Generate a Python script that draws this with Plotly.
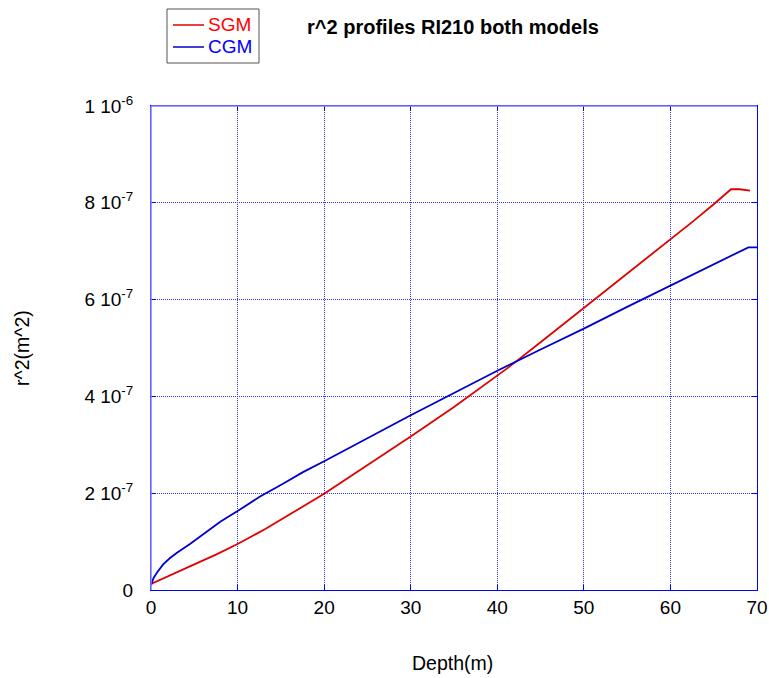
import plotly.graph_objects as go

# Depth (m) and r^2 (m^2) values
sgm_depth = [0, 2.5, 5, 7.5, 10, 13.2, 15, 17.5, 20, 23, 25, 30, 35, 40,
             41.3, 45, 50, 55, 60, 62.5, 65, 67, 68, 69.2]
sgm_r2 = [0.125e-7, 0.32e-7, 0.53e-7, 0.73e-7, 0.95e-7, 1.26e-7, 1.46e-7, 1.72e-7, 1.99e-7,
          2.34e-7, 2.57e-7, 3.17e-7, 3.78e-7, 4.42e-7,
          4.6e-7, 5.12e-7, 5.83e-7, 6.53e-7, 7.24e-7, 7.6e-7, 7.97e-7, 8.28e-7, 8.28e-7, 8.25e-7]

cgm_depth = [0, 0.1, 0.3, 0.7, 1.4, 2.2, 3.0, 4.5, 6.4, 8.0, 10, 12.5, 15.3, 17.5, 20, 23,
             26.5, 30, 35, 40, 45, 50, 55, 60, 65, 69.0, 70]
cgm_r2 = [0.1e-7, 0.17e-7, 0.25e-7, 0.36e-7, 0.53e-7, 0.66e-7, 0.77e-7, 0.95e-7, 1.2e-7,
          1.41e-7, 1.63e-7, 1.92e-7, 2.2e-7, 2.43e-7, 2.66e-7, 2.95e-7,
          3.28e-7, 3.61e-7, 4.07e-7, 4.53e-7, 4.97e-7, 5.4e-7, 5.85e-7, 6.29e-7, 6.72e-7,
          7.08e-7, 7.08e-7]

series_names = ["SGM", "CGM"]
series_colors = ["#e00000", "#0000cc"]
legend_text_colors = ["#ff0000", "#0000ff"]

x_ticks = [0, 10, 20, 30, 40, 50, 60, 70]
y_ticks = [0, 2e-7, 4e-7, 6e-7, 8e-7, 1e-6]
y_tick_text = ["0", "2 10<sup>-7</sup>", "4 10<sup>-7</sup>", "6 10<sup>-7</sup>",
               "8 10<sup>-7</sup>", "1 10<sup>-6</sup>"]

fig = go.Figure()
fig.add_trace(go.Scatter(x=sgm_depth, y=sgm_r2, mode="lines", name=series_names[0],
                         line=dict(color=series_colors[0], width=1.8)))
fig.add_trace(go.Scatter(x=cgm_depth, y=cgm_r2, mode="lines", name=series_names[1],
                         line=dict(color=series_colors[1], width=1.8)))

font_family = "Liberation Sans, Arial, sans-serif"

# plot area in pixels: left 151, right 757, top 106, bottom 590
def px_x(p):
    return (p - 151) / 606.0

def px_y(p):
    return (590 - p) / 484.0

annotations = [
    dict(text="Depth(m)", xref="paper", yref="paper", x=0.498, y=-0.151,
         xanchor="center", yanchor="middle", showarrow=False, font=dict(size=19.5)),
    dict(text="r^2(m^2)", xref="paper", yref="paper", x=-0.213, y=0.5,
         xanchor="center", yanchor="middle", showarrow=False, textangle=-90,
         font=dict(size=19.5)),
]
shapes = [
    # lighter left and top frame edges
    dict(type="line", xref="paper", yref="paper", x0=0, x1=0, y0=0, y1=1,
         line=dict(color="#8080ff", width=1.5)),
    dict(type="line", xref="paper", yref="paper", x0=0, x1=1, y0=1, y1=1,
         line=dict(color="#8080ff", width=1.5)),
    # legend box
    dict(type="rect", xref="paper", yref="paper", x0=px_x(167), x1=px_x(259),
         y0=px_y(63), y1=px_y(9), line=dict(color="#555555", width=1),
         fillcolor="white"),
]
legend_rows = [25, 47]
for name, col, tcol, row in zip(series_names, series_colors, legend_text_colors, legend_rows):
    shapes.append(dict(type="line", xref="paper", yref="paper", x0=px_x(173), x1=px_x(204),
                       y0=px_y(row), y1=px_y(row), line=dict(color=col, width=1.5)))
    annotations.append(dict(text=name, xref="paper", yref="paper", x=px_x(206),
                            y=px_y(row), xanchor="left", yanchor="middle",
                            showarrow=False, font=dict(size=19, color=tcol)))

grid_style = dict(showgrid=True, gridcolor="#3333ff", griddash="1px,1px", gridwidth=0.8)

fig.update_layout(
    width=769, height=678,
    paper_bgcolor="white", plot_bgcolor="white",
    margin=dict(l=151, r=12, t=106, b=88, autoexpand=False),
    font=dict(family=font_family, size=19, color="black"),
    title=dict(text="<b>r^2 profiles RI210 both models</b>", x=0.589, xanchor="center",
               y=0.96, yref="container", yanchor="middle", font=dict(size=20, color="black")),
    showlegend=False,
    xaxis=dict(range=[0, 70], tickvals=x_ticks, ticks="inside", ticklen=5,
               tickcolor="#0000ff", showline=True, linecolor="#0000ff", linewidth=1,
               mirror="ticks", zeroline=False, tickfont=dict(size=19), automargin=False,
               **grid_style),
    yaxis=dict(range=[0, 1e-6], tickvals=y_ticks, ticktext=y_tick_text, ticks="inside",
               ticklen=5, tickcolor="#0000ff", showline=True, linecolor="#0000ff",
               linewidth=1, mirror="ticks", zeroline=False, tickfont=dict(size=19),
               ticklabelstandoff=13, automargin=False, **grid_style),
    annotations=annotations,
    shapes=shapes,
)

fig.write_html("out.html", config={"displayModeBar": False},
               post_script="document.body.style.margin='0';")
